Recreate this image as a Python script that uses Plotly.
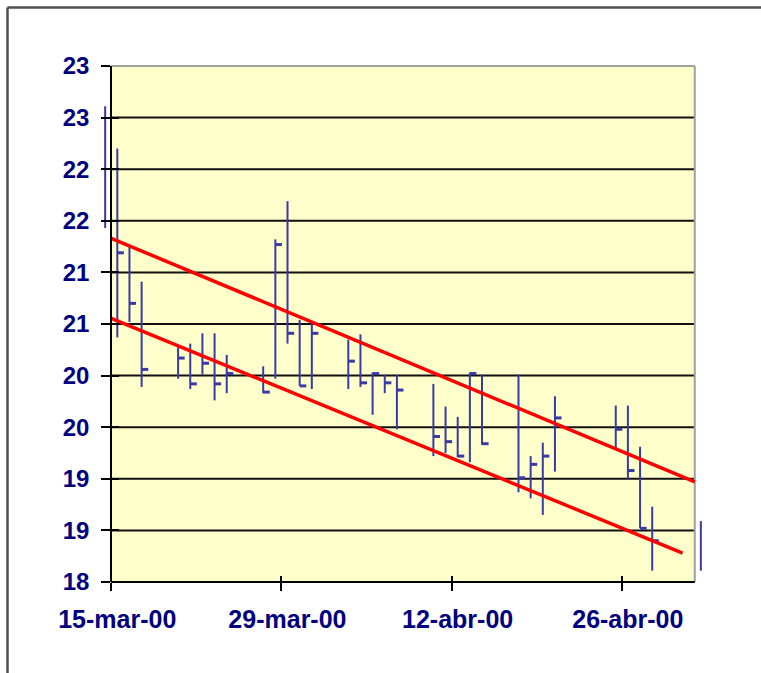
import math
import pandas as pd
import plotly.graph_objects as go

# ---------------- data ----------------
dates = ["2000-03-14", "2000-03-15", "2000-03-16", "2000-03-17",
         "2000-03-20", "2000-03-21", "2000-03-22", "2000-03-23", "2000-03-24",
         "2000-03-27", "2000-03-28", "2000-03-29", "2000-03-30", "2000-03-31",
         "2000-04-03", "2000-04-04", "2000-04-05", "2000-04-06", "2000-04-07",
         "2000-04-10", "2000-04-11", "2000-04-12", "2000-04-13", "2000-04-14",
         "2000-04-17", "2000-04-18", "2000-04-19", "2000-04-20",
         "2000-04-25", "2000-04-26", "2000-04-27", "2000-04-28",
         "2000-05-02"]
high = [22.61, 22.20, 21.25, 20.91,
        20.28, 20.31, 20.41, 20.41, 20.20,
        20.09, 21.32, 21.69, 20.54, 20.51,
        20.35, 20.40, 20.03, 20.01, 20.01,
        19.92, 19.70, 19.60, 20.03, 20.01,
        20.01, 19.22, 19.35, 19.80,
        19.71, 19.71, 19.31, 18.73,
        18.59]
low = [21.43, 20.37, 20.52, 19.89,
       19.97, 19.87, 20.01, 19.76, 19.83,
       19.83, 19.97, 20.31, 19.90, 19.87,
       19.87, 19.89, 19.62, 19.83, 19.48,
       19.22, 19.25, 19.21, 19.16, 19.33,
       18.87, 18.81, 18.65, 19.07,
       19.29, 19.00, 18.52, 18.11,
       18.11]
close = [None, 21.19, 20.70, 20.06,
         20.17, 19.92, 20.12, 19.92, 20.02,
         19.84, 21.27, 20.41, 19.90, 20.41,
         20.14, 19.93, 20.02, 19.93, 19.86,
         19.41, 19.36, 19.22, 20.02, 19.34,
         19.01, 19.14, 19.22, 19.59,
         19.48, 19.08, 18.52, 18.40,
         None]

# trend channel lines
upper_x = ["2000-03-15", "2000-05-02"]
upper_y = [21.33, 18.97]
lower_x = ["2000-03-15", "2000-05-01"]
lower_y = [20.555, 18.28]

# axes
x_ticks = ["2000-03-15", "2000-03-29", "2000-04-12", "2000-04-26"]
x_ticktext = ["15-mar-00", "29-mar-00", "12-abr-00", "26-abr-00"]
y_min, y_max, y_step = 18.0, 23.0, 0.5
axis_start, axis_end = "2000-03-15", "2000-05-02"   # visible plot area

# ---------------- styling ----------------
W, H = 761, 673
ML, MR, MT, MB = 93, 48, 66, 91
NAVY = "#000080"
BAR = "#3a3aa6"
FAMILY = "Liberation Sans, Arial, sans-serif"
YFONT = dict(family=FAMILY, size=24, color=NAVY, weight="bold")
XFONT = dict(family=FAMILY, size=25, color=NAVY, weight="bold")

half_day = pd.Timedelta(hours=12)
tick_len = pd.Timedelta(hours=13)
range_lo = pd.Timestamp(axis_start) - pd.Timedelta(hours=36)
range_hi = pd.Timestamp(axis_end) + pd.Timedelta(hours=36)
span = (range_hi - range_lo)


def px_x(d):
    return (pd.Timestamp(d) - range_lo) / span


def py_y(v):
    return (v - y_min) / (y_max - y_min)


# HLC bars (bar of a date centred in its day)
vx, vy, tx, ty = [], [], [], []
for d, h, l, c in zip(dates, high, low, close):
    xc = pd.Timestamp(d) + half_day
    vx += [xc, xc, None]
    vy += [l, h, None]
    if c is not None:
        tx += [xc, xc + tick_len, None]
        ty += [c, c, None]

y_vals = []
v = y_min
while v <= y_max + 1e-9:
    y_vals.append(round(v, 2))
    v += y_step
y_text = [str(int(math.floor(val + 0.5))) for val in y_vals]

fig = go.Figure()
fig.add_trace(go.Scatter(x=vx, y=vy, mode="lines", line=dict(color=BAR, width=2),
                         hoverinfo="skip", showlegend=False))
fig.add_trace(go.Scatter(x=tx, y=ty, mode="lines", line=dict(color=BAR, width=3),
                         hoverinfo="skip", showlegend=False))
fig.add_trace(go.Scatter(x=upper_x, y=upper_y, mode="lines",
                         line=dict(color="#ff0000", width=3.5), showlegend=False))
fig.add_trace(go.Scatter(x=lower_x, y=lower_y, mode="lines",
                         line=dict(color="#ff0000", width=3.5), showlegend=False))
# invisible traces so the overlay axes (crossing tick marks) are drawn
fig.add_trace(go.Scatter(x=[None], y=[None], xaxis="x2", yaxis="y", showlegend=False))
fig.add_trace(go.Scatter(x=[None], y=[None], xaxis="x", yaxis="y2", showlegend=False))

ypos = px_x(axis_start)
x0p, x1p = px_x(axis_start), px_x(axis_end)

shapes = []
# plot area background
shapes.append(dict(type="rect", xref="paper", yref="paper", x0=x0p, x1=x1p, y0=0, y1=1,
                   fillcolor="#ffffcc", line=dict(width=0), layer="below"))
# gridlines
for val in y_vals[1:-1]:
    shapes.append(dict(type="line", xref="paper", yref="paper", x0=x0p, x1=x1p,
                       y0=py_y(val), y1=py_y(val), line=dict(color="#111111", width=2),
                       layer="below"))
# top and right border (grey)
shapes.append(dict(type="line", xref="paper", yref="paper", x0=x0p, x1=x1p, y0=1, y1=1,
                   line=dict(color="#a0a0a0", width=2), layer="below"))
shapes.append(dict(type="line", xref="paper", yref="paper", x0=x1p, x1=x1p, y0=0, y1=1,
                   line=dict(color="#a0a0a0", width=2), layer="below"))
# bottom axis line
shapes.append(dict(type="line", xref="paper", yref="paper", x0=x0p, x1=x1p, y0=0, y1=0,
                   line=dict(color="#000000", width=2), layer="above"))
# outer chart frame (only top and left edges are inside the picture)
pw, ph = W - ML - MR, H - MT - MB
fx0 = (7.5 - ML) / pw
fy1 = (H - MB - 7.5) / ph
fx1 = (W + 60 - ML) / pw
fy0 = -(MB + 60) / ph
shapes.append(dict(type="line", xref="paper", yref="paper", x0=fx0, x1=fx1, y0=fy1, y1=fy1,
                   line=dict(color="#505050", width=2.5), layer="above"))
shapes.append(dict(type="line", xref="paper", yref="paper", x0=fx0, x1=fx0, y0=fy0, y1=fy1,
                   line=dict(color="#505050", width=2.5), layer="above"))

fig.update_layout(
    width=W, height=H,
    margin=dict(l=ML, r=MR, t=MT, b=MB),
    paper_bgcolor="white", plot_bgcolor="rgba(0,0,0,0)",
    shapes=shapes,
    xaxis=dict(type="date", range=[range_lo, range_hi], showgrid=False, zeroline=False,
               showline=False, tickvals=x_ticks, ticktext=x_ticktext,
               ticks="outside", ticklen=8, tickwidth=2, tickcolor="#000000",
               tickfont=XFONT, ticklabelshift=6, ticklabelstandoff=7, fixedrange=True),
    xaxis2=dict(type="date", overlaying="x", matches="x", anchor="y", side="bottom",
                showgrid=False, zeroline=False, showline=False, tickvals=x_ticks,
                showticklabels=False, ticks="inside", ticklen=6, tickwidth=2,
                tickcolor="#000000"),
    yaxis=dict(range=[y_min, y_max], anchor="free", position=ypos, showgrid=False,
               zeroline=False, showline=True, linecolor="#000000", linewidth=2,
               tickvals=y_vals, ticktext=y_text, ticks="outside", ticklen=9,
               tickwidth=2, tickcolor="#000000", tickfont=YFONT,
               ticklabelstandoff=7, fixedrange=True),
    yaxis2=dict(range=[y_min, y_max], overlaying="y", matches="y", anchor="free",
                position=ypos, showgrid=False, zeroline=False, showline=False,
                tickvals=y_vals, showticklabels=False, ticks="inside", ticklen=7,
                tickwidth=2, tickcolor="#000000"),
)

fig.write_html(
    "out.html", config={"displayModeBar": False},
    post_script=("document.body.style.margin='0';"
                 "document.body.style.overflow='hidden';"
                 "document.documentElement.style.overflow='hidden';"))
